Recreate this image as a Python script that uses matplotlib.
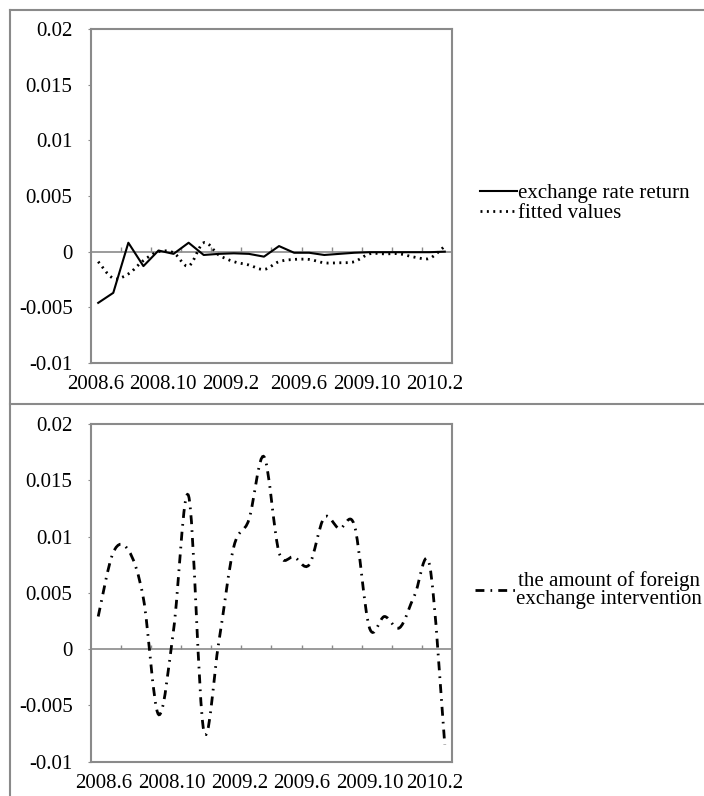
import numpy as np
import matplotlib
matplotlib.use('Agg')
import matplotlib.pyplot as plt
from matplotlib.path import Path
from matplotlib.patches import PathPatch
from matplotlib.lines import Line2D

plt.rcParams['font.family'] = ['Liberation Serif', 'DejaVu Serif']
plt.rcParams['font.size'] = 15

# monthly observations, 2008.6 - 2010.5
months = ['2008.6', '2008.7', '2008.8', '2008.9', '2008.10', '2008.11', '2008.12',
          '2009.1', '2009.2', '2009.3', '2009.4', '2009.5', '2009.6', '2009.7',
          '2009.8', '2009.9', '2009.10', '2009.11', '2009.12', '2010.1', '2010.2',
          '2010.3', '2010.4', '2010.5']

rate_return = [-0.0046, -0.0037, 0.0008, -0.0013, 0.0001, -0.0002, 0.0008, -0.0003,
               -0.0002, -0.00015, -0.0002, -0.00045, 0.0005, -0.0001, -0.0001, -0.0003,
               -0.0002, -0.0001, -0.00005, -0.00005, -0.00005, -0.00005, -0.00005, 0.0]
fitted = [-0.0009, -0.0024, -0.0020, -0.0008, 0.0, -0.0001, -0.0013, 0.0008,
          -0.0003, -0.0009, -0.0012, -0.0016, -0.0009, -0.0007, -0.0007, -0.0010,
          -0.0010, -0.0009, -0.0002, -0.0002, -0.0002, -0.0005, -0.0006, 0.0005]
intervention = [0.0029, 0.0086, 0.0088, 0.0045, -0.0058, 0.0017, 0.0136, -0.0072,
                0.0006, 0.0091, 0.0115, 0.0171, 0.0086, 0.0082, 0.0075, 0.0117,
                0.0107, 0.0110, 0.0019, 0.0029, 0.0019, 0.0048, 0.0074, -0.0085]

xtick_labels = ['2008.6', '2008.10', '2009.2', '2009.6', '2009.10', '2010.2']
yticks = [-0.01, -0.005, 0, 0.005, 0.01, 0.015, 0.02]
ytick_labels = ['-0.01', '-0.005', '0', '0.005', '0.01', '0.015', '0.02']

GRAY = '#8a8a8a'
DASHDOT = (0, (3.2, 2.2, 0.6, 2.2))
DOTS = (0, (0.7, 1.6))


def smooth_path(x, y):
    # cubic bezier through every point (spreadsheet style smoothed line)
    pts = np.column_stack([x, y])
    n = len(pts)
    verts = [pts[0]]
    codes = [Path.MOVETO]
    for i in range(n - 1):
        p0 = pts[i - 1] if i > 0 else pts[i]
        p1 = pts[i]
        p2 = pts[i + 1]
        p3 = pts[i + 2] if i + 2 < n else pts[i + 1]
        verts += [p1 + (p2 - p0) / 6, p2 - (p3 - p1) / 6, p2]
        codes += [Path.CURVE4] * 3
    return Path(verts, codes)


def style_axes(ax, label_pos):
    ax.set_xlim(-0.5, len(months) - 0.5)
    ax.set_ylim(-0.01, 0.02)
    for s in ax.spines.values():
        s.set_color(GRAY)
        s.set_linewidth(1.5)
    ax.set_yticks(yticks)
    ax.set_yticklabels(ytick_labels)
    ax.tick_params(axis='y', direction='out', length=2, color=GRAY, pad=11)
    ax.set_xticks(label_pos)
    ax.set_xticklabels(xtick_labels)
    ax.tick_params(axis='x', length=0, pad=9)
    # category axis along zero with a tick every two months
    ax.axhline(0, color=GRAY, lw=1.2, zorder=1)
    ax.vlines(np.arange(1.5, len(months) - 1, 2), 0, 0.0004, color=GRAY, lw=1, zorder=1)


fig = plt.figure(figsize=(7.04, 7.96), dpi=100)
x = np.arange(len(months))

# top panel: exchange rate return vs fitted values
ax1 = fig.add_axes([0.1288, 0.5440, 0.5137, 0.4196])
style_axes(ax1, [-0.2, 4.3, 8.8, 13.3, 17.8, 22.3])
ax1.plot(x, rate_return, color='black', lw=1.5, zorder=3)
ax1.add_patch(PathPatch(smooth_path(x, fitted), fill=False, color='black',
                        lw=2.0, linestyle=DOTS, zorder=3))
h1 = [Line2D([], [], color='black', lw=1.5),
      Line2D([], [], color='black', lw=2.0, linestyle=DOTS)]
fig.legend(h1, ['exchange rate return', 'fitted values'], loc='center left',
           bbox_to_anchor=(0.682, 0.7445), bbox_transform=fig.transFigure,
           frameon=False, handlelength=1.75, handletextpad=0.05, labelspacing=0.05,
           borderpad=0, borderaxespad=0, fontsize=15)

# bottom panel: foreign exchange intervention
ax2 = fig.add_axes([0.1288, 0.0431, 0.5137, 0.4242])
style_axes(ax2, [0.38, 4.87, 9.4, 13.5, 18.0, 22.35])
ax2.add_patch(PathPatch(smooth_path(x, intervention), fill=False, color='black',
                        lw=2.0, linestyle=DASHDOT, zorder=3))
h2 = [Line2D([], [], color='black', lw=2.0, linestyle=DASHDOT)]
leg2 = fig.legend(h2, ['the amount of foreign\nexchange intervention'], loc='center left',
                  bbox_to_anchor=(0.6747, 0.2588), bbox_transform=fig.transFigure,
                  frameon=False, handlelength=1.95, handletextpad=0.0,
                  borderpad=0, borderaxespad=0, fontsize=15)
for t in leg2.get_texts():
    t.set_multialignment('center')
    t.set_linespacing(0.88)

# outer frame and panel divider
for xs, ys in [([10, 704], [10, 10]), ([10, 10], [10, 796]), ([10, 704], [404, 404])]:
    fig.add_artist(Line2D(np.array(xs) / 704, 1 - np.array(ys) / 796,
                          transform=fig.transFigure, color=GRAY, lw=1.5))

fig.savefig('out.png', dpi=100)
